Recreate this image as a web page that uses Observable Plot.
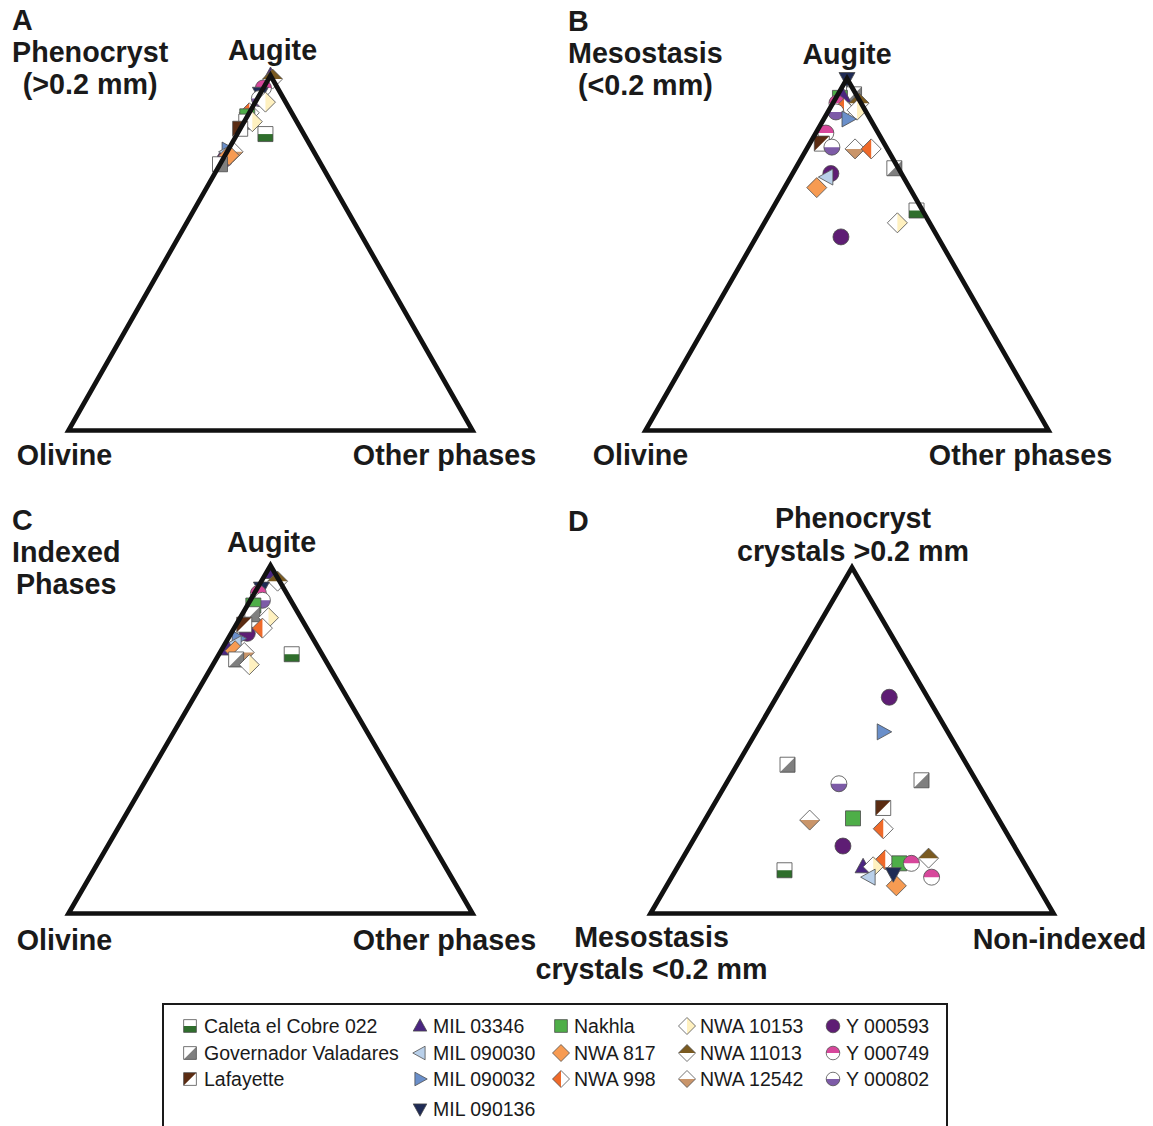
<!DOCTYPE html>
<html><head><meta charset="utf-8">
<script src="https://cdn.jsdelivr.net/npm/d3@7"></script>
<script src="https://cdn.jsdelivr.net/npm/@observablehq/plot@0.6"></script>
<style>
body{margin:0;background:#fff;font-family:"Liberation Sans",Arial,sans-serif;}
#root{position:relative;width:1153px;height:1126px;overflow:hidden;background:#fff;}
.panel{position:absolute;}
.panel svg{overflow:visible;background:transparent;}
.title{position:absolute;font-weight:bold;font-size:28.7px;line-height:32px;color:#1a1a1a;z-index:5;}
.legend{position:absolute;left:162px;top:1003px;width:782px;height:140px;border:2px solid #1a1a1a;}
.lgtext{position:absolute;font-size:19.5px;line-height:22px;color:#1a1a1a;white-space:nowrap;z-index:6;}
.lgsw{position:absolute;z-index:6;}
</style></head><body><div id="root"></div>
<script>
// ---------------- DATA ----------------
const sampleNames = ["Caleta el Cobre 022","Governador Valadares","Lafayette","MIL 03346","MIL 090030","MIL 090032","MIL 090136","Nakhla","NWA 817","NWA 998","NWA 10153","NWA 11013","NWA 12542","Y 000593","Y 000749","Y 000802"];

// Panel A: Phenocryst (>0.2 mm)  — % Augite / Olivine / Other phases
const phenoSample  = ["MIL 03346","NWA 11013","Y 000749","MIL 090136","Y 000802","NWA 10153","NWA 998","Nakhla","Governador Valadares","NWA 10153","Lafayette","Caleta el Cobre 022","Y 000593","MIL 090032","MIL 090030","NWA 12542","NWA 817","Governador Valadares"];
const phenoAugite  = [100, 99, 96.5, 95, 93.5, 92.5, 89.5, 88.5, 87, 87, 85, 83.5, 76.5, 79, 78.5, 78.5, 77.5, 75];
const phenoOlivine = [0, 0, 3.5, 5, 6, 5, 10.5, 11.5, 12.5, 11, 15, 9.5, 23, 21, 21.5, 20, 21.5, 25];
const phenoOther   = [0, 1, 0, 0, 0.5, 2.5, 0, 0, 0.5, 2, 0, 7, 0.5, 0, 0, 1.5, 1, 0];

// Panel B: Mesostasis (<0.2 mm)
const mesoSample  = ["MIL 090136","Governador Valadares","Nakhla","MIL 03346","NWA 11013","Y 000749","NWA 998","Y 000802","NWA 10153","MIL 090032","Y 000749","Lafayette","Y 000802","NWA 12542","NWA 998","Governador Valadares","Y 000593","MIL 090030","NWA 817","Caleta el Cobre 022","NWA 10153","Y 000593"];
const mesoAugite  = [100, 95.5, 94.5, 95, 93, 93, 91.5, 90.5, 91, 88.5, 84.5, 81.5, 80.5, 80, 80, 74.5, 73, 72, 69, 62.5, 59, 55];
const mesoOlivine = [0, 0.5, 4.5, 3.5, 0.5, 6, 5, 7.5, 2, 5.5, 13, 15.5, 13.5, 8, 4, 1, 17.5, 19, 23, 1.5, 8, 24];
const mesoOther   = [0, 4, 1, 1.5, 6.5, 1, 3.5, 2, 7, 6, 2.5, 3, 6, 12, 16, 24.5, 9.5, 9, 8, 36, 33, 21];

// Panel C: Indexed phases
const idxSample  = ["Y 000593","MIL 03346","NWA 11013","MIL 090136","Y 000749","Y 000802","Nakhla","Governador Valadares","NWA 10153","Lafayette","NWA 998","MIL 090032","MIL 090030","MIL 03346","NWA 817","NWA 12542","Governador Valadares","NWA 10153","Caleta el Cobre 022"];
const idxAugite  = [80.5, 98, 95.5, 93.5, 92, 90, 88.5, 86, 85, 83, 82, 79, 77.5, 76, 75.5, 75, 73, 71.5, 74.5];
const idxOlivine = [15.5, 1, 0.5, 5.5, 7, 7, 10, 11.5, 8, 15, 11, 18.5, 20, 22.5, 21, 19, 22, 19.5, 7.5];
const idxOther   = [4, 1, 4, 1, 1, 3, 1.5, 2.5, 7, 2, 7, 2.5, 2.5, 1.5, 3.5, 6, 5, 9, 18];

// Panel D: Phenocryst crystals / Mesostasis crystals / Non-indexed
const modeSample     = ["Y 000593","MIL 090032","Governador Valadares","Y 000802","Governador Valadares","Lafayette","NWA 12542","Nakhla","NWA 998","Y 000593","NWA 998","MIL 03346","NWA 10153","Nakhla","Y 000749","NWA 11013","MIL 090030","NWA 817","MIL 090136","Y 000749","Caleta el Cobre 022"];
const modePheno      = [62.5, 52.5, 43, 37.5, 38.5, 30.5, 27, 27.5, 24.5, 19.5, 15.5, 13.5, 13.5, 14.5, 14.5, 16, 10.5, 8, 11.5, 10.5, 12.5];
const modeMeso       = [9.5, 16, 44.5, 34.5, 13.5, 27, 47, 36, 30, 42.5, 34, 40.5, 38, 31, 28, 23, 40.5, 35, 34, 25, 60.5];
const modeNonIndexed = [28, 31.5, 12.5, 28, 48, 42.5, 26, 36.5, 45.5, 38, 50.5, 46, 48.5, 54.5, 57.5, 61, 49, 57, 54.5, 64.5, 27];

// ---------------- STYLE (marker design per sample) ----------------
const markerShape = ["square","square","square","triUp","triLeft","triRight","triDown","square","diamond","diamond","diamond","diamond","diamond","circle","circle","circle"];
const markerHalf  = ["bottom","lowerRight","upperLeft","full","full","full","full","full","full","left","right","top","bottom","full","top","bottom"];
const markerColor = ["#2f6e2c","#7f7f7f","#5b2c12","#4a2581","#b9d0ea","#6a8fca","#1f2b55","#4eae48","#f79b52","#ef6a2a","#fff1c0","#7a5a20","#c9956a","#5e1d74","#d7479b","#7d5ba7"];

const H = 7.5, D = 10, R = 8;
function poly(pts){ return {draw(ctx){ ctx.moveTo(pts[0][0], pts[0][1]); for (let i = 1; i < pts.length; i++) ctx.lineTo(pts[i][0], pts[i][1]); ctx.closePath(); }}; }
const shapes = {
  square: poly([[-H,-H],[H,-H],[H,H],[-H,H]]),
  diamond: poly([[0,-D],[D,0],[0,D],[-D,0]]),
  triUp: poly([[0,-8.5],[8,6],[-8,6]]),
  triDown: poly([[0,8.5],[8,-6],[-8,-6]]),
  triLeft: poly([[-8.5,0],[6,-8],[6,8]]),
  triRight: poly([[8.5,0],[-6,-8],[-6,8]]),
  circle: {draw(ctx){ ctx.moveTo(R,0); ctx.arc(0,0,R,0,2*Math.PI); ctx.closePath(); }}
};
const halves = {
  "square-bottom": poly([[-H,0],[H,0],[H,H],[-H,H]]),
  "square-lowerRight": poly([[H,-H],[H,H],[-H,H]]),
  "square-upperLeft": poly([[-H,-H],[H,-H],[-H,H]]),
  "diamond-left": poly([[0,-D],[-D,0],[0,D]]),
  "diamond-right": poly([[0,-D],[D,0],[0,D]]),
  "diamond-top": poly([[-D,0],[0,-D],[D,0]]),
  "diamond-bottom": poly([[-D,0],[0,D],[D,0]]),
  "circle-top": {draw(ctx){ ctx.moveTo(-R,0); ctx.arc(0,0,R,Math.PI,2*Math.PI); ctx.closePath(); }},
  "circle-bottom": {draw(ctx){ ctx.moveTo(R,0); ctx.arc(0,0,R,0,Math.PI); ctx.closePath(); }}
};
const styleOf = {};
sampleNames.forEach((n, i) => {
  const full = shapes[markerShape[i]];
  const half = markerHalf[i] === "full" ? full : halves[markerShape[i] + "-" + markerHalf[i]];
  styleOf[n] = {full, half, color: markerColor[i]};
});

// ---------------- DRAW ----------------
const root = document.getElementById("root");
const FONT = "'Liberation Sans', Arial, sans-serif";
const tx = d => (d.c + d.a / 2) / (d.a + d.b + d.c);
const ty = d => d.a / (d.a + d.b + d.c);

function rowsOf(names, a, b, c){ return names.map((s, i) => ({sample: s, a: a[i], b: b[i], c: c[i]})); }

function panel(opt){
  const rows = rowsOf(opt.names, opt.a, opt.b, opt.c);
  const top = {a:1,b:0,c:0}, left = {a:0,b:1,c:0}, right = {a:0,b:0,c:1};
  const marks = [];
  rows.forEach(d => {
    const st = styleOf[d.sample];
    marks.push(Plot.dot([d], {x: tx, y: ty, symbol: st.full, fill: "white", stroke: "none"}));
    marks.push(Plot.dot([d], {x: tx, y: ty, symbol: st.half, fill: st.color, stroke: "none"}));
    marks.push(Plot.dot([d], {x: tx, y: ty, symbol: st.full, fill: "none", stroke: "#4a4a4a", strokeWidth: 0.8}));
  });
  marks.push(Plot.line([left, right, top, left, right], {x: tx, y: ty, stroke: "#111", strokeWidth: 4.7, strokeLinejoin: "miter", strokeMiterlimit: 10, curve: "linear"}));
  const lab = {fontSize: 28.7, fontWeight: "bold", fill: "#1a1a1a", lineHeight: 1.12};
  marks.push(Plot.text([top], {x: tx, y: ty, text: () => opt.topLabel, dx: opt.topDx || 0, dy: opt.topDy, lineAnchor: opt.topAnchor || "middle", ...lab}));
  marks.push(Plot.text([left], {x: tx, y: ty, text: () => opt.leftLabel, dx: opt.leftDx, dy: opt.leftDy, lineAnchor: opt.leftAnchor || "middle", ...lab}));
  marks.push(Plot.text([right], {x: tx, y: ty, text: () => opt.rightLabel, dx: opt.rightDx, dy: opt.rightDy, lineAnchor: "middle", ...lab}));
  const chart = Plot.plot({
    width: 576, height: opt.height,
    x: {domain: [0, 1], range: opt.xr, axis: null},
    y: {domain: [0, 1], range: opt.yr, axis: null},
    style: {fontFamily: FONT, overflow: "visible", background: "transparent"},
    marks
  });
  const div = document.createElement("div");
  div.className = "panel";
  div.style.left = opt.left + "px"; div.style.top = opt.top + "px"; div.style.width = "576px";
  div.appendChild(chart);
  root.appendChild(div);
}

panel({left: 0, top: 0, height: 490, xr: [68, 472], yr: [430, 75],
  names: phenoSample, a: phenoAugite, b: phenoOlivine, c: phenoOther,
  topLabel: "Augite", topDx: 2, topDy: -26,
  leftLabel: "Olivine", leftDx: -4, leftDy: 24,
  rightLabel: "Other phases", rightDx: -28, rightDy: 24});
panel({left: 576, top: 0, height: 490, xr: [69, 472], yr: [430, 78],
  names: mesoSample, a: mesoAugite, b: mesoOlivine, c: mesoOther,
  topLabel: "Augite", topDx: 0, topDy: -25,
  leftLabel: "Olivine", leftDx: -5, leftDy: 24,
  rightLabel: "Other phases", rightDx: -28, rightDy: 24});
panel({left: 0, top: 490, height: 500, xr: [68, 472], yr: [423, 75],
  names: idxSample, a: idxAugite, b: idxOlivine, c: idxOther,
  topLabel: "Augite", topDx: 1, topDy: -24,
  leftLabel: "Olivine", leftDx: -4, leftDy: 26,
  rightLabel: "Other phases", rightDx: -28, rightDy: 26});
panel({left: 576, top: 490, height: 500, xr: [74, 477], yr: [423, 77],
  names: modeSample, a: modePheno, b: modeMeso, c: modeNonIndexed,
  topLabel: "Phenocryst\ncrystals >0.2 mm", topDx: 1, topDy: -7, topAnchor: "bottom",
  leftLabel: "Mesostasis\ncrystals <0.2 mm", leftDx: 1, leftDy: 11, leftAnchor: "top",
  rightLabel: "Non-indexed", rightDx: 6, rightDy: 25});

// Panel titles
const titles = [
  {left: 12, top: 4, letter: "A", lines: ["Phenocryst", "(>0.2 mm)"]},
  {left: 568, top: 5, letter: "B", lines: ["Mesostasis", "(<0.2 mm)"]},
  {left: 12, top: 504, letter: "C", lines: ["Indexed", "Phases"]},
  {left: 568, top: 505, letter: "D", lines: []}
];
titles.forEach(t => {
  const d = document.createElement("div");
  d.className = "title";
  d.style.left = t.left + "px"; d.style.top = t.top + "px";
  const l = document.createElement("div"); l.textContent = t.letter; d.appendChild(l);
  if (t.lines.length) {
    const b = document.createElement("div");
    b.style.display = "inline-block"; b.style.textAlign = "center";
    t.lines.forEach(s => { const x = document.createElement("div"); x.textContent = s; b.appendChild(x); });
    d.appendChild(b);
  }
  root.appendChild(d);
});

// Legend
const legendBox = document.createElement("div"); legendBox.className = "legend"; root.appendChild(legendBox);
const legendCols = [[0,1,2],[3,4,5,6],[7,8,9],[10,11,12],[13,14,15]];
const colMarkX = [190, 420, 561, 687, 833];
const colTextX = [204, 433, 574, 700, 846];
const rowY = [1026, 1053, 1079, 1109];
function pathOf(sym){ const p = d3.path(); sym.draw(p, 0); return p.toString(); }
legendCols.forEach((col, ci) => col.forEach((si, ri) => {
  const name = sampleNames[si], st = styleOf[name];
  const svg = d3.create("svg").attr("width", 24).attr("height", 24).attr("class", "lgsw")
    .style("left", (colMarkX[ci] - 12) + "px").style("top", (rowY[ri] - 12) + "px");
  const g = svg.append("g").attr("transform", "translate(12,12) scale(0.85)");
  g.append("path").attr("d", pathOf(st.full)).attr("fill", "white");
  g.append("path").attr("d", pathOf(st.half)).attr("fill", st.color);
  g.append("path").attr("d", pathOf(st.full)).attr("fill", "none").attr("stroke", "#4a4a4a").attr("stroke-width", 0.9);
  root.appendChild(svg.node());
  const t = document.createElement("div"); t.className = "lgtext";
  t.style.left = colTextX[ci] + "px"; t.style.top = (rowY[ri] - 11) + "px";
  t.textContent = name; root.appendChild(t);
}));
</script></body></html>
